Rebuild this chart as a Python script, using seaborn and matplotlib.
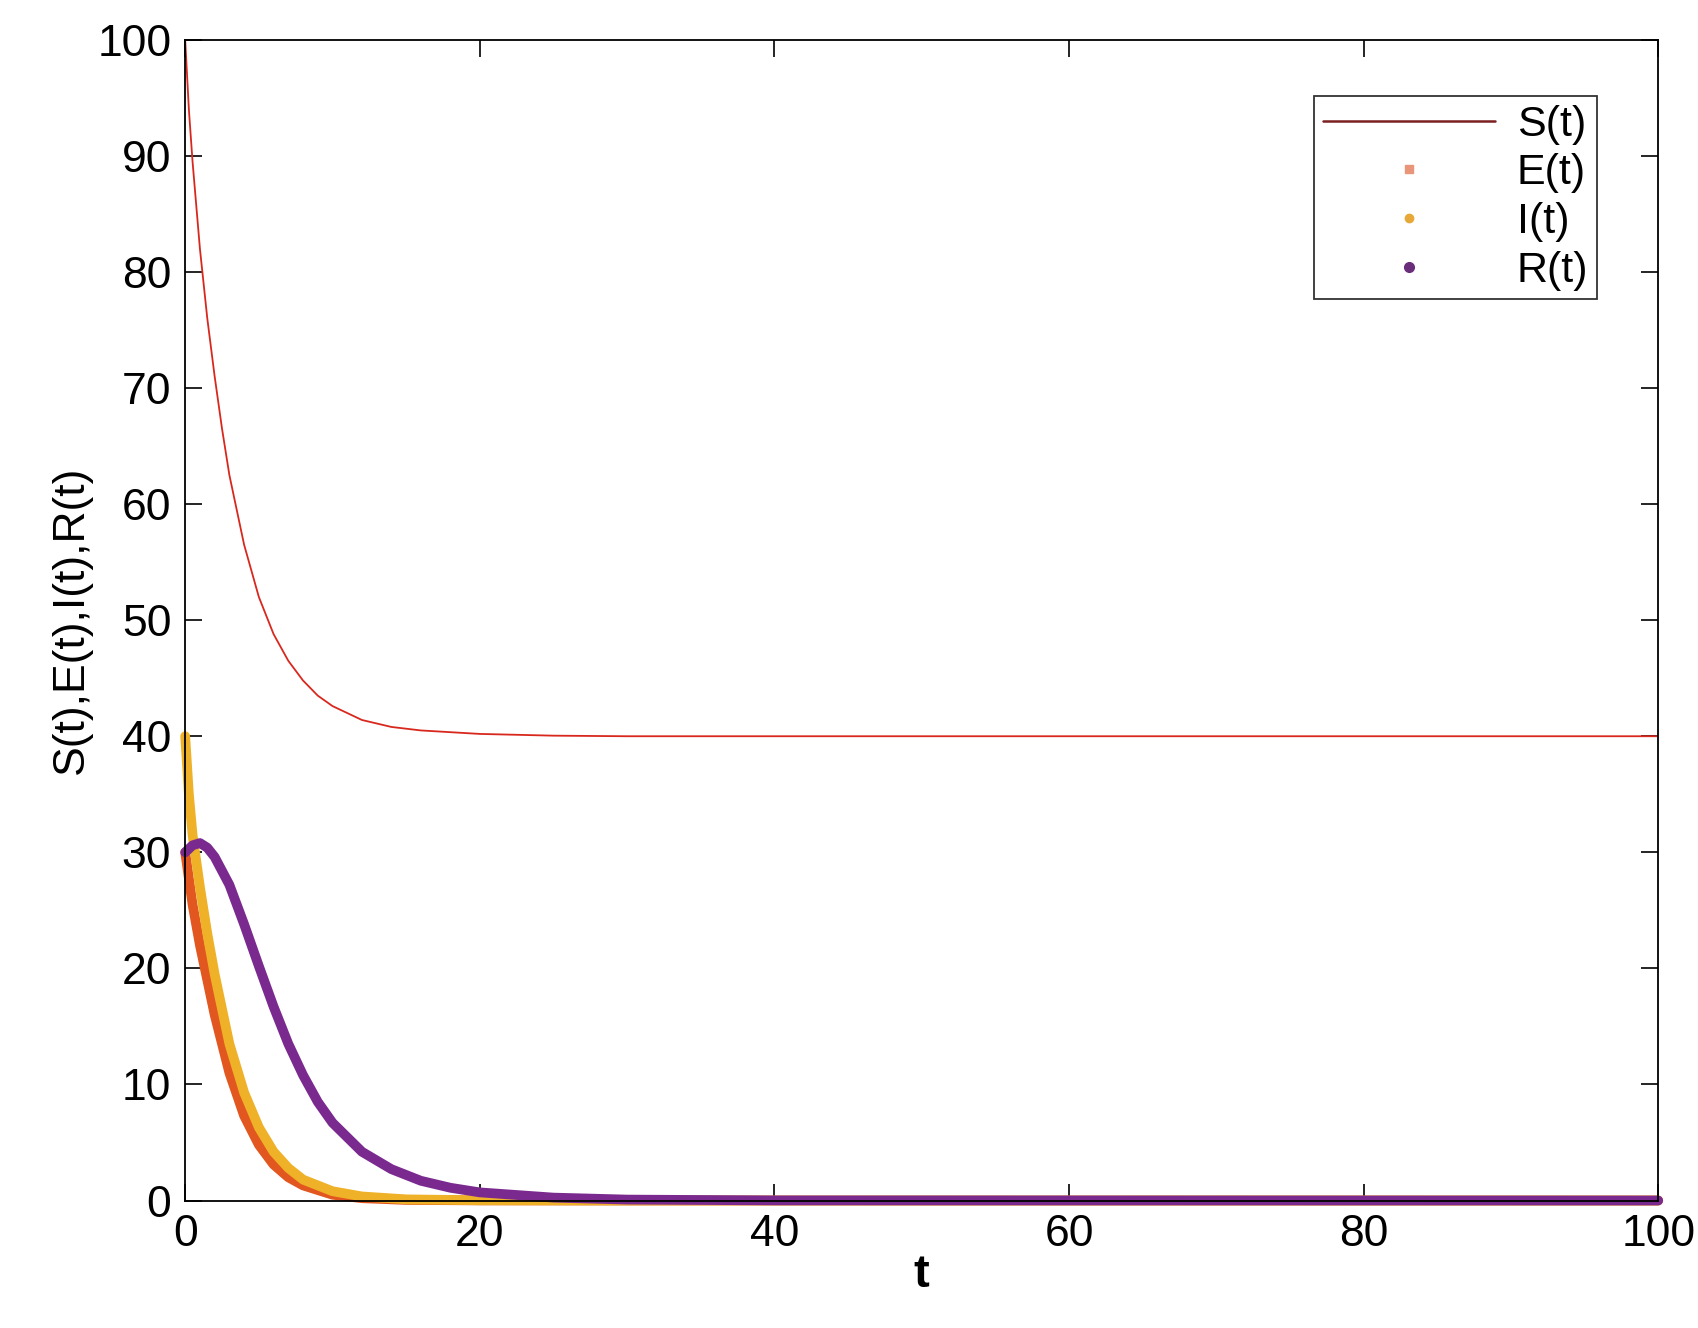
import matplotlib
matplotlib.use("Agg")
import matplotlib.pyplot as plt
import seaborn as sns
import pandas as pd
from matplotlib.lines import Line2D

t_S = [0, 0.25, 0.5, 1, 1.5, 2, 2.5, 3, 3.5, 4, 5, 6, 7, 8, 9, 10, 12, 14, 16, 20, 25, 30, 40, 60, 80, 100]
S = [100, 94, 89.5, 82, 76, 71, 66.5, 62.5, 59.5, 56.5, 52, 48.8, 46.5, 44.8, 43.5, 42.6, 41.4, 40.8, 40.5, 40.2, 40.05, 40, 40, 40, 40, 40]
t_E = [0, 0.5, 1, 1.5, 2, 3, 4, 5, 6, 7, 8, 10, 12, 15, 20, 30, 100]
E = [30, 25.5, 22, 19, 16, 11, 7.3, 4.8, 3.1, 2.0, 1.3, 0.5, 0.2, 0.05, 0.01, 0, 0]
t_I = [0, 0.25, 0.5, 1, 1.5, 2, 3, 4, 5, 6, 7, 8, 10, 12, 15, 20, 30, 100]
I = [40, 35, 31.5, 27, 23, 19.5, 13.5, 9.3, 6.3, 4.2, 2.8, 1.8, 0.8, 0.35, 0.1, 0.02, 0, 0]
t_R = [0, 0.5, 1, 1.5, 2, 3, 4, 5, 6, 7, 8, 9, 10, 12, 14, 16, 18, 20, 25, 30, 40, 100]
R = [30, 30.6, 30.8, 30.4, 29.6, 27.2, 23.8, 20.2, 16.7, 13.5, 10.8, 8.5, 6.7, 4.2, 2.7, 1.7, 1.1, 0.7, 0.25, 0.08, 0.01, 0]

sns.set_theme(style="ticks")
plt.rcParams['font.family'] = ['Liberation Sans', 'DejaVu Sans']
plt.rcParams['text.color'] = 'black'
plt.rcParams['axes.labelcolor'] = 'black'
plt.rcParams['xtick.color'] = 'black'
plt.rcParams['ytick.color'] = 'black'

fig = plt.figure(figsize=(16.99, 13.28), dpi=100)
ax = fig.add_axes([0.109, 0.096, 0.867, 0.874])

cS, cE, cI, cR = '#d8281e', '#e2561f', '#eeb128', '#7a2a8e'
for tx, yy, c in [(t_E, E, cE), (t_I, I, cI), (t_R, R, cR)]:
    sns.lineplot(x=tx, y=yy, ax=ax, color=c, lw=7, legend=False,
                 solid_capstyle='round', solid_joinstyle='round', clip_on=False)
sns.lineplot(x=t_S, y=S, ax=ax, color=cS, lw=1.3, legend=False)

ax.set_xlim(0, 100)
ax.set_ylim(0, 100)
ax.set_xticks(range(0, 101, 20))
ax.set_yticks(range(0, 101, 10))
ax.tick_params(labelsize=32, direction='in', length=12, width=1.2, top=True, right=True, pad=10)
for s in ax.spines.values():
    s.set_linewidth(1.3)
    s.set_color('black')
ax.set_xlabel('t', fontsize=34, labelpad=-2, fontweight='bold')
ax.set_ylabel('S(t),E(t),I(t),R(t)', fontsize=32, labelpad=4)

handles = [Line2D([], [], color='#7a2020', lw=1.8),
           Line2D([], [], color='#e8957a', marker='s', ls='', ms=6),
           Line2D([], [], color='#e8a838', marker='o', ls='', ms=6),
           Line2D([], [], color='#6a2d7a', marker='o', ls='', ms=7)]
leg = ax.legend(handles, ['S(t)', 'E(t)', 'I(t)', 'R(t)'], loc='upper right',
                bbox_to_anchor=(0.973, 0.97), fontsize=31, frameon=True, fancybox=False,
                edgecolor='black', handlelength=4.0, borderpad=0.2, labelspacing=0.2,
                handletextpad=0.5)
leg.get_frame().set_linewidth(1.3)

fig.savefig('out.png', dpi=100)
